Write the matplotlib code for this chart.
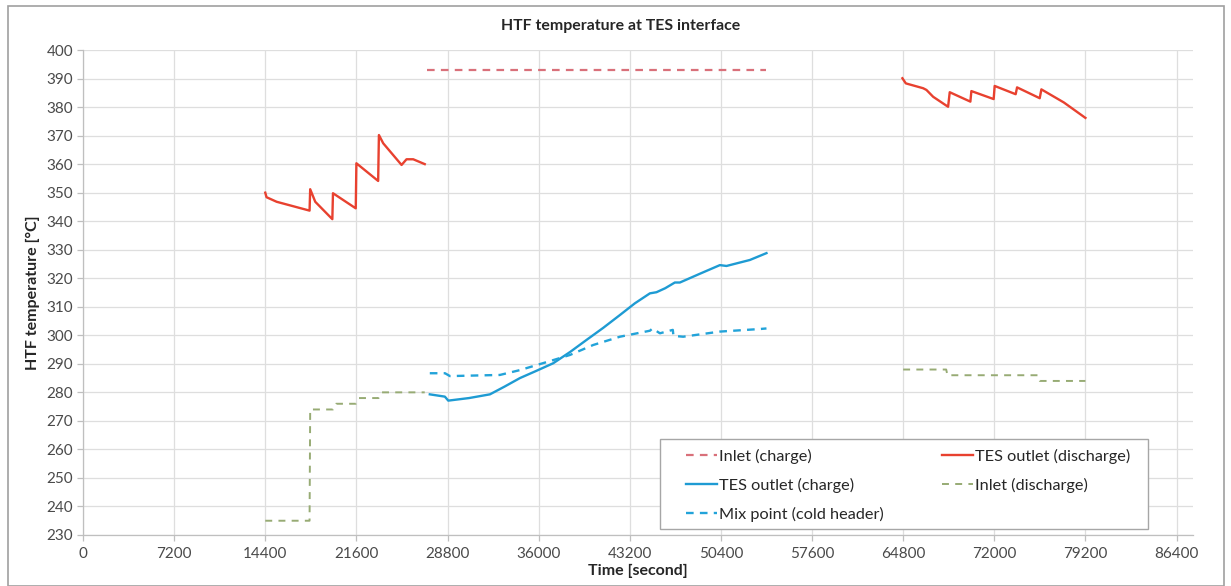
import matplotlib
matplotlib.use("Agg")
import matplotlib.pyplot as plt
from matplotlib.patches import Rectangle

# ---------------- data ----------------
x_ticks = [0, 7200, 14400, 21600, 28800, 36000, 43200, 50400, 57600, 64800, 72000, 79200, 86400]
y_ticks = list(range(230, 401, 10))

inlet_charge_t = [27200, 54000]
inlet_charge_T = [393, 393]

tes_out_dis_t1 = [14400, 14500, 15300, 17900, 17950, 18350, 19700, 19750, 21550, 21600, 23320, 23380, 23720, 25170, 25560, 26090, 27000]
tes_out_dis_T1 = [350.0, 348.4, 346.8, 343.7, 351.2, 346.8, 340.7, 349.8, 344.5, 360.3, 354.1, 370.2, 367.3, 359.7, 361.7, 361.7, 360.0]

tes_out_dis_t2 = [64740, 65010, 66380, 66640, 67170, 68350, 68480, 70110, 70190, 71950, 72030, 73690, 73800, 75590, 75720, 77500, 79200]
tes_out_dis_T2 = [390.1, 388.3, 386.6, 386.0, 383.6, 380.1, 385.2, 381.9, 385.6, 382.8, 387.4, 384.5, 386.9, 383.1, 386.2, 381.6, 376.2]

tes_out_chg_t = [27400, 28590, 28860, 30500, 32150, 33300, 34520, 35800, 37150, 38500, 39790, 41100, 42420, 43600, 44790, 45310, 46000, 46760, 47160, 48700, 50320, 50840, 52690, 54000]
tes_out_chg_T = [279.3, 278.5, 277.1, 278.0, 279.3, 282.0, 285.0, 287.5, 290.2, 294.2, 298.4, 302.6, 307.1, 311.2, 314.7, 315.1, 316.5, 318.5, 318.5, 321.5, 324.6, 324.3, 326.4, 328.8]

mix_t = [27400, 28600, 28990, 32940, 34520, 37150, 38470, 40310, 42420, 44790, 45000, 45580, 46600, 46650, 47420, 50320, 53480, 54000]
mix_T = [286.7, 286.7, 285.7, 286.1, 287.8, 291.3, 293.1, 296.6, 299.5, 301.6, 302.4, 300.7, 301.9, 299.8, 299.5, 301.3, 302.2, 302.4]

inlet_dis_t1 = [14400, 17900, 17950, 19750, 20000, 21550, 21800, 23350, 23600, 27000]
inlet_dis_T1 = [235, 235, 274, 274, 276, 276, 278, 278, 280, 280]

inlet_dis_t2 = [64800, 68200, 68300, 75450, 75600, 79200]
inlet_dis_T2 = [288, 288, 286, 286, 284, 284]

# ---------------- style ----------------
plt.rcParams['font.family'] = ['Lato', 'DejaVu Sans']
plt.rcParams['lines.scale_dashes'] = False

red = "#e8412f"
red_dash = "#d9707a"
blue = "#1e9bd3"
blue_dash = "#22a3d9"
green = "#97ab74"
tick_col = "#4a4a4a"
grid_col = "#dedede"
text_col = "#262626"

W, H = 1231, 586
fig = plt.figure(figsize=(W/100, H/100), dpi=100)
ax = fig.add_axes([83/W, 1-535/H, (1193-83)/W, (535-50)/H])

l1, = ax.plot(inlet_charge_t, inlet_charge_T, color=red_dash, lw=1.6, dashes=(5.5, 4.5), label="Inlet (charge)")
l2, = ax.plot(tes_out_chg_t, tes_out_chg_T, color=blue, lw=1.7, label="TES outlet (charge)")
l3, = ax.plot(mix_t, mix_T, color=blue_dash, lw=1.7, dashes=(5.5, 4.5), label="Mix point (cold header)")
l4, = ax.plot(tes_out_dis_t1, tes_out_dis_T1, color=red, lw=1.7, label="TES outlet (discharge)")
ax.plot(tes_out_dis_t2, tes_out_dis_T2, color=red, lw=1.7)
l5, = ax.plot(inlet_dis_t1, inlet_dis_T1, color=green, lw=1.4, dashes=(5, 4.5), label="Inlet (discharge)")
ax.plot(inlet_dis_t2, inlet_dis_T2, color=green, lw=1.4, dashes=(5, 4.5))

ax.set_xlim(0, 87700)
ax.set_ylim(230, 400)
ax.set_xticks(x_ticks)
ax.set_xticklabels([str(v) for v in x_ticks])
ax.set_yticks(y_ticks)
ax.grid(True, color=grid_col, lw=0.9)
ax.set_axisbelow(True)
for s in ["top", "right"]:
    ax.spines[s].set_visible(False)
for s in ["left", "bottom"]:
    ax.spines[s].set_color("#bfbfbf")
    ax.spines[s].set_linewidth(0.9)
ax.tick_params(axis="both", colors="#bfbfbf", labelcolor=tick_col, labelsize=11, length=4, width=0.9)
ax.tick_params(axis="x", pad=5)
ax.tick_params(axis="y", pad=3)

ax.set_xlabel("Time [second]", fontsize=11.5, fontweight="bold", color=text_col, labelpad=2)
ax.set_ylabel("HTF temperature [°C]", fontsize=11.5, fontweight="bold", color=text_col, labelpad=5)
fig.text(621/W, 1-26/H, "HTF temperature at TES interface", ha="center", va="center",
         fontsize=11.4, fontweight="bold", color=text_col)

# legend box (frame drawn separately for Excel-like padding)
ax.add_patch(Rectangle((660/W, 1-529/H), (1148-660)/W, (529-439)/H, transform=fig.transFigure,
                       facecolor="white", edgecolor="#a6a6a6", lw=1.0, zorder=4))
leg = ax.legend(handles=[l1, l2, l3, l4, l5], ncol=2, loc="upper left",
                bbox_to_anchor=(686/W, 1-449/H), bbox_transform=fig.transFigure,
                frameon=False, fontsize=11.7, handlelength=1.9,
                handletextpad=0.15, labelspacing=0.85, columnspacing=3.55,
                borderpad=0, borderaxespad=0)
leg.set_zorder(5)
for t in leg.get_texts():
    t.set_color(text_col)

fig.add_artist(Rectangle((8/W, 0), 1216/W, 1-6/H, transform=fig.transFigure,
                         fill=False, edgecolor="#a0a0a0", lw=1.2))

fig.savefig("out.png", dpi=100)
